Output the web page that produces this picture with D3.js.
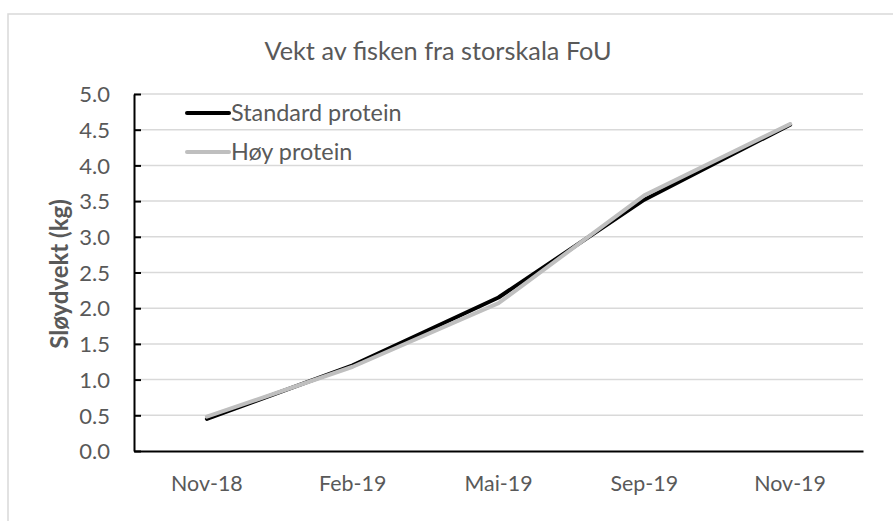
<!DOCTYPE html>
<html><head><meta charset="utf-8">
<script src="https://cdn.jsdelivr.net/npm/d3@7"></script>
<style>body{margin:0;background:#fff}svg{display:block}</style>
</head><body><svg id="c" width="893" height="521"></svg>
<script>
const categories = ["Nov-18","Feb-19","Mai-19","Sep-19","Nov-19"];
const standardProtein = [0.45, 1.20, 2.15, 3.52, 4.57];
const hoyProtein = [0.48, 1.18, 2.07, 3.58, 4.58];
const yTicks = [0,0.5,1,1.5,2,2.5,3,3.5,4,4.5,5];
const seriesNames = ["Standard protein","Høy protein"];

(function(){
const svg = d3.select("#c");
const font = "Lato, 'Open Sans', sans-serif";
const txt = "#595959";
const pLeft=134, pRight=863, pTop=94, pBottom=451;

svg.append("rect").attr("x",8).attr("y",14).attr("width",900).attr("height",520)
  .attr("fill","#fff").attr("stroke","#d9d9d9").attr("stroke-width",1.5);

const x = d3.scaleBand().domain(categories).range([pLeft,pRight]);
const y = d3.scaleLinear().domain([0,5]).range([pBottom,pTop]);

svg.append("text").attr("x",438).attr("y",60).attr("text-anchor","middle")
  .attr("font-family",font).attr("font-size",25.3).attr("fill",txt)
  .text("Vekt av fisken fra storskala FoU");

svg.append("g").selectAll("line").data(yTicks.slice(1)).join("line")
  .attr("x1",pLeft).attr("x2",pRight).attr("y1",d=>y(d)).attr("y2",d=>y(d))
  .attr("stroke","#d9d9d9").attr("stroke-width",1.5);

const yAxis = svg.append("g").attr("transform",`translate(${pLeft},0)`)
  .call(d3.axisLeft(y).tickValues(yTicks).tickFormat(d3.format(".1f")).tickSizeInner(-7).tickSizeOuter(0).tickPadding(24));
yAxis.select(".domain").attr("stroke","#000").attr("stroke-width",2);
yAxis.selectAll(".tick line").attr("stroke","#000").attr("stroke-width",2);
yAxis.selectAll("text").attr("font-family",font).attr("font-size",22).attr("fill",txt).attr("dy","0.35em");

const xAxis = svg.append("g").attr("transform",`translate(0,${pBottom})`)
  .call(d3.axisBottom(x).tickSize(0).tickPadding(25));
xAxis.select(".domain").attr("stroke","#000").attr("stroke-width",2);
xAxis.selectAll("text").attr("font-family",font).attr("font-size",21.4).attr("fill",txt);

svg.append("text").attr("transform","translate(68,274) rotate(-90)").attr("text-anchor","middle")
  .attr("font-family",font).attr("font-size",24).attr("font-weight","bold").attr("fill",txt)
  .text("Sløydvekt (kg)");

const line = d3.line().x((d,i)=>x(categories[i])+x.bandwidth()/2).y(d=>y(d));
svg.append("path").datum(standardProtein).attr("d",line).attr("fill","none")
  .attr("stroke","#000").attr("stroke-width",4).attr("stroke-linecap","round").attr("stroke-linejoin","round");
svg.append("path").datum(hoyProtein).attr("d",line).attr("fill","none")
  .attr("stroke","#bfbfbf").attr("stroke-width",4).attr("stroke-linecap","round").attr("stroke-linejoin","round");

const lg = svg.append("g");
const lcol = ["#000","#bfbfbf"];
seriesNames.forEach((n,i)=>{
  const ly = 113 + i*39;
  lg.append("line").attr("x1",187).attr("x2",229).attr("y1",ly).attr("y2",ly)
    .attr("stroke",lcol[i]).attr("stroke-width",4).attr("stroke-linecap","round");
  lg.append("text").attr("x",231).attr("y",ly).attr("dy","0.35em")
    .attr("font-family",font).attr("font-size",23.4).attr("fill",txt).text(n);
});
})();
</script></body></html>
